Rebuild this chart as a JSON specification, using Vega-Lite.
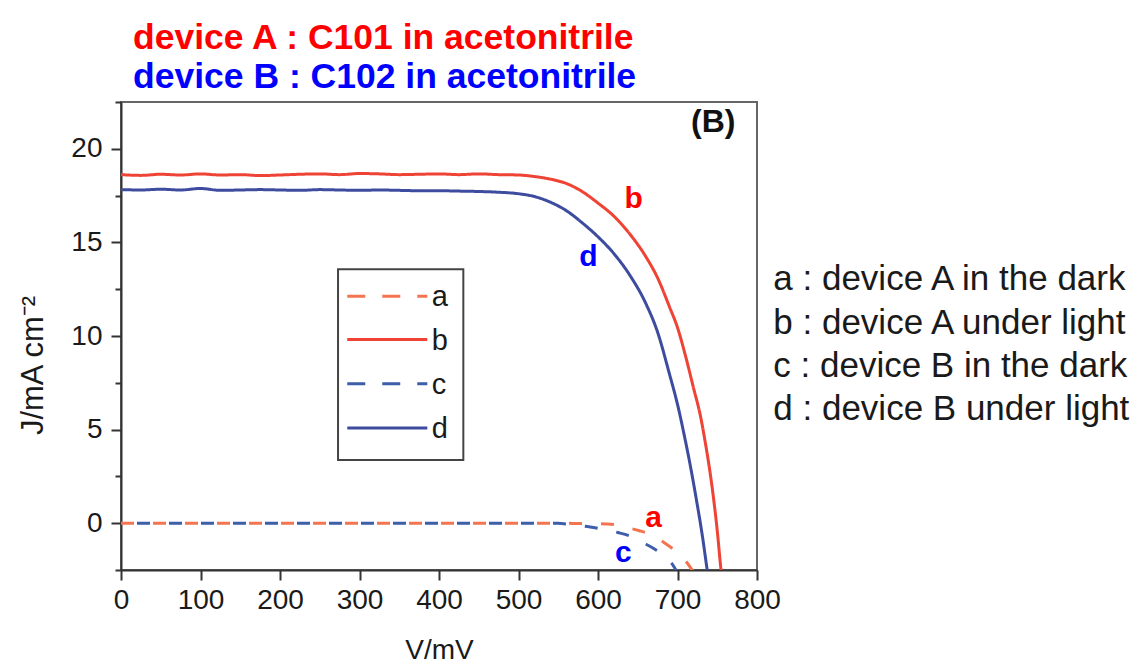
{
  "$schema": "https://vega.github.io/schema/vega-lite/v6.json",
  "width": 636,
  "height": 468,
  "autosize": "none",
  "padding": {"left": 121, "top": 102, "right": 384, "bottom": 100},
  "background": "white",
  "config": {
    "font": "Liberation Sans",
    "view": {"stroke": "#666", "strokeWidth": 2}
  },
  "title": {
    "text": "device A : C101 in acetonitrile",
    "subtitle": "device B : C102 in acetonitrile",
    "anchor": "start",
    "frame": "group",
    "dx": 12,
    "offset": -7,
    "font": "Liberation Sans",
    "fontSize": 35.5,
    "fontWeight": "bold",
    "color": "#ff0000",
    "subtitleFont": "Liberation Sans",
    "subtitleFontSize": 35.5,
    "subtitleFontWeight": "bold",
    "subtitleColor": "#0000ff",
    "subtitlePadding": 3
  },
  "datasets": {
    "jv": [
      {"curve": "b", "V": 0, "J": 18.62}, {"curve": "b", "V": 25, "J": 18.58}, {"curve": "b", "V": 50, "J": 18.64}, {"curve": "b", "V": 75, "J": 18.6},
      {"curve": "b", "V": 100, "J": 18.66}, {"curve": "b", "V": 125, "J": 18.6}, {"curve": "b", "V": 150, "J": 18.62}, {"curve": "b", "V": 175, "J": 18.57},
      {"curve": "b", "V": 200, "J": 18.6}, {"curve": "b", "V": 225, "J": 18.64}, {"curve": "b", "V": 250, "J": 18.66}, {"curve": "b", "V": 275, "J": 18.62},
      {"curve": "b", "V": 300, "J": 18.68}, {"curve": "b", "V": 325, "J": 18.66}, {"curve": "b", "V": 350, "J": 18.62}, {"curve": "b", "V": 375, "J": 18.64},
      {"curve": "b", "V": 400, "J": 18.66}, {"curve": "b", "V": 425, "J": 18.62}, {"curve": "b", "V": 450, "J": 18.66}, {"curve": "b", "V": 475, "J": 18.62},
      {"curve": "b", "V": 500, "J": 18.6}, {"curve": "b", "V": 520, "J": 18.52}, {"curve": "b", "V": 540, "J": 18.38}, {"curve": "b", "V": 560, "J": 18.15},
      {"curve": "b", "V": 580, "J": 17.72}, {"curve": "b", "V": 600, "J": 17.1}, {"curve": "b", "V": 620, "J": 16.4}, {"curve": "b", "V": 640, "J": 15.45},
      {"curve": "b", "V": 660, "J": 14.25}, {"curve": "b", "V": 675, "J": 13.1}, {"curve": "b", "V": 690, "J": 11.55}, {"curve": "b", "V": 700, "J": 10.45},
      {"curve": "b", "V": 710, "J": 8.95}, {"curve": "b", "V": 720, "J": 7.25}, {"curve": "b", "V": 729, "J": 5.7}, {"curve": "b", "V": 735, "J": 4.3},
      {"curve": "b", "V": 741, "J": 2.7}, {"curve": "b", "V": 746, "J": 1.1}, {"curve": "b", "V": 750, "J": -0.4}, {"curve": "b", "V": 754, "J": -2.2},
      {"curve": "b", "V": 756, "J": -3.0},

      {"curve": "d", "V": 0, "J": 17.82}, {"curve": "d", "V": 25, "J": 17.8}, {"curve": "d", "V": 50, "J": 17.84}, {"curve": "d", "V": 75, "J": 17.8},
      {"curve": "d", "V": 100, "J": 17.88}, {"curve": "d", "V": 125, "J": 17.78}, {"curve": "d", "V": 150, "J": 17.8}, {"curve": "d", "V": 175, "J": 17.82},
      {"curve": "d", "V": 200, "J": 17.8}, {"curve": "d", "V": 225, "J": 17.78}, {"curve": "d", "V": 250, "J": 17.82}, {"curve": "d", "V": 275, "J": 17.8},
      {"curve": "d", "V": 300, "J": 17.78}, {"curve": "d", "V": 325, "J": 17.8}, {"curve": "d", "V": 350, "J": 17.78}, {"curve": "d", "V": 375, "J": 17.76},
      {"curve": "d", "V": 400, "J": 17.76}, {"curve": "d", "V": 425, "J": 17.74}, {"curve": "d", "V": 450, "J": 17.72}, {"curve": "d", "V": 475, "J": 17.68},
      {"curve": "d", "V": 500, "J": 17.6}, {"curve": "d", "V": 520, "J": 17.45}, {"curve": "d", "V": 540, "J": 17.15}, {"curve": "d", "V": 560, "J": 16.7},
      {"curve": "d", "V": 580, "J": 16.05}, {"curve": "d", "V": 600, "J": 15.3}, {"curve": "d", "V": 620, "J": 14.4}, {"curve": "d", "V": 640, "J": 13.25},
      {"curve": "d", "V": 660, "J": 11.75}, {"curve": "d", "V": 675, "J": 10.2}, {"curve": "d", "V": 690, "J": 7.95}, {"curve": "d", "V": 700, "J": 6.35},
      {"curve": "d", "V": 708, "J": 4.8}, {"curve": "d", "V": 716, "J": 3.1}, {"curve": "d", "V": 724, "J": 1.2}, {"curve": "d", "V": 731, "J": -0.6},
      {"curve": "d", "V": 737, "J": -2.4}, {"curve": "d", "V": 739, "J": -3.0},

      {"curve": "a", "V": 0, "J": 0}, {"curve": "a", "V": 100, "J": 0}, {"curve": "a", "V": 200, "J": 0}, {"curve": "a", "V": 300, "J": 0},
      {"curve": "a", "V": 400, "J": 0}, {"curve": "a", "V": 500, "J": 0}, {"curve": "a", "V": 600, "J": -0.02}, {"curve": "a", "V": 610, "J": -0.04},
      {"curve": "a", "V": 624, "J": -0.1}, {"curve": "a", "V": 638, "J": -0.25}, {"curve": "a", "V": 652, "J": -0.4}, {"curve": "a", "V": 666, "J": -0.6},
      {"curve": "a", "V": 682, "J": -1.0}, {"curve": "a", "V": 695, "J": -1.4}, {"curve": "a", "V": 708, "J": -1.9}, {"curve": "a", "V": 723, "J": -2.8},

      {"curve": "c", "V": 0, "J": 0}, {"curve": "c", "V": 100, "J": 0}, {"curve": "c", "V": 200, "J": 0}, {"curve": "c", "V": 300, "J": 0},
      {"curve": "c", "V": 400, "J": 0}, {"curve": "c", "V": 500, "J": 0}, {"curve": "c", "V": 550, "J": 0}, {"curve": "c", "V": 560, "J": -0.04},
      {"curve": "c", "V": 575, "J": -0.12}, {"curve": "c", "V": 590, "J": -0.2}, {"curve": "c", "V": 611, "J": -0.37}, {"curve": "c", "V": 625, "J": -0.5},
      {"curve": "c", "V": 640, "J": -0.68}, {"curve": "c", "V": 657, "J": -1.05}, {"curve": "c", "V": 670, "J": -1.35}, {"curve": "c", "V": 682, "J": -1.7},
      {"curve": "c", "V": 692, "J": -2.1}, {"curve": "c", "V": 702, "J": -2.8}
    ]
  },
  "layer": [
    {
      "data": {"name": "jv"},
      "transform": [{"filter": "datum.curve !== 'c'"}],
      "mark": {"type": "line", "clip": true, "strokeWidth": 3, "interpolate": "monotone"},
      "encoding": {
        "x": {
          "field": "V", "type": "quantitative",
          "scale": {"domain": [0, 800], "nice": false, "zero": false},
          "axis": {
            "values": [0, 50, 100, 150, 200, 250, 300, 350, 400, 450, 500, 550, 600, 650, 700, 750, 800],
            "format": "d",
            "labelExpr": "datum.value % 100 === 0 ? datum.label : ''",
            "tickSize": {"condition": {"test": "datum.value % 100 === 0", "value": 10}, "value": 6},
            "tickColor": "#333", "tickWidth": 2,
            "domainColor": "#333", "domainWidth": 2,
            "grid": false,
            "labelFontSize": 28, "labelColor": "#1a1a1a", "labelPadding": 6,
            "labelFlush": false, "labelOverlap": false,
            "title": "V/mV", "titleFontSize": 28, "titleFontWeight": "normal", "titleColor": "#1a1a1a", "titlePadding": 22
          }
        },
        "y": {
          "field": "J", "type": "quantitative",
          "scale": {"domain": [-2.5, 22.5], "nice": false, "zero": false},
          "axis": {
            "values": [-2.5, 0, 2.5, 5, 7.5, 10, 12.5, 15, 17.5, 20, 22.5],
            "format": "d",
            "labelExpr": "datum.value % 5 === 0 ? datum.label : ''",
            "tickSize": {"condition": {"test": "datum.value % 5 === 0", "value": 10}, "value": 6},
            "tickColor": "#333", "tickWidth": 2,
            "domainColor": "#333", "domainWidth": 2,
            "grid": false,
            "labelFontSize": 28, "labelColor": "#1a1a1a", "labelPadding": 9,
            "labelOverlap": false,
            "title": "J/mA cm⁻²", "titleFontSize": 31, "titleFontWeight": "normal", "titleColor": "#1a1a1a", "titlePadding": 21, "titleY": 263
          }
        },
        "color": {
          "field": "curve", "type": "nominal",
          "scale": {"domain": ["a", "b", "c", "d"], "range": ["#f4744f", "#ee4335", "#3c5eab", "#3d4c9e"]},
          "legend": null
        },
        "strokeDash": {
          "field": "curve", "type": "nominal",
          "scale": {"domain": ["a", "b", "c", "d"], "range": [[13, 19], [1, 0], [13, 19], [1, 0]]},
          "legend": null
        }
      }
    },
    {
      "data": {"name": "jv"},
      "transform": [{"filter": "datum.curve === 'c'"}],
      "mark": {"type": "line", "clip": true, "strokeWidth": 3, "strokeDashOffset": 16, "interpolate": "monotone"},
      "encoding": {
        "x": {"field": "V", "type": "quantitative"},
        "y": {"field": "J", "type": "quantitative"},
        "color": {"field": "curve", "type": "nominal", "legend": null},
        "strokeDash": {"field": "curve", "type": "nominal", "legend": null}
      }
    },
    {
      "data": {"values": [{}]},
      "mark": {"type": "rect", "fill": "white", "stroke": "#444", "strokeWidth": 2},
      "encoding": {"x": {"datum": 273}, "x2": {"datum": 430.6}, "y": {"datum": 13.57}, "y2": {"datum": 3.38}}
    },
    {
      "data": {"values": [{}]},
      "mark": {"type": "rule", "stroke": "#f4744f", "strokeWidth": 3, "strokeDash": [18, 17]},
      "encoding": {"x": {"datum": 284.6}, "x2": {"datum": 385.3}, "y": {"datum": 12.12}}
    },
    {
      "data": {"values": [{}]},
      "mark": {"type": "rule", "stroke": "#ee4335", "strokeWidth": 3},
      "encoding": {"x": {"datum": 284.6}, "x2": {"datum": 385.3}, "y": {"datum": 9.81}}
    },
    {
      "data": {"values": [{}]},
      "mark": {"type": "rule", "stroke": "#3c5eab", "strokeWidth": 3, "strokeDash": [18, 17]},
      "encoding": {"x": {"datum": 284.6}, "x2": {"datum": 385.3}, "y": {"datum": 7.45}}
    },
    {
      "data": {"values": [{}]},
      "mark": {"type": "rule", "stroke": "#3d4c9e", "strokeWidth": 3},
      "encoding": {"x": {"datum": 284.6}, "x2": {"datum": 385.3}, "y": {"datum": 5.09}}
    },
    {
      "data": {"values": [{}]},
      "mark": {"type": "text", "align": "left", "baseline": "alphabetic", "fontSize": 29, "color": "#1a1a1a", "lineHeight": 43.7},
      "encoding": {"x": {"datum": 391}, "y": {"datum": 11.58}, "text": {"value": ["a", "b", "c", "d"]}}
    },
    {
      "data": {"values": [{}]},
      "mark": {"type": "text", "align": "center", "baseline": "middle", "fontSize": 30, "fontWeight": "bold", "color": "#ff0000"},
      "encoding": {"x": {"datum": 645}, "y": {"datum": 17.3}, "text": {"value": "b"}}
    },
    {
      "data": {"values": [{}]},
      "mark": {"type": "text", "align": "center", "baseline": "middle", "fontSize": 30, "fontWeight": "bold", "color": "#0000ff"},
      "encoding": {"x": {"datum": 588}, "y": {"datum": 14.2}, "text": {"value": "d"}}
    },
    {
      "data": {"values": [{}]},
      "mark": {"type": "text", "align": "center", "baseline": "middle", "fontSize": 30, "fontWeight": "bold", "color": "#ff0000"},
      "encoding": {"x": {"datum": 670}, "y": {"datum": 0.27}, "text": {"value": "a"}}
    },
    {
      "data": {"values": [{}]},
      "mark": {"type": "text", "align": "center", "baseline": "middle", "fontSize": 30, "fontWeight": "bold", "color": "#0000ff"},
      "encoding": {"x": {"datum": 632}, "y": {"datum": -1.6}, "text": {"value": "c"}}
    },
    {
      "data": {"values": [{}]},
      "mark": {"type": "text", "align": "center", "baseline": "middle", "fontSize": 32, "fontWeight": "bold", "color": "#111"},
      "encoding": {"x": {"datum": 745}, "y": {"datum": 21.45}, "text": {"value": "(B)"}}
    },
    {
      "data": {"values": [{}]},
      "mark": {"type": "text", "align": "left", "baseline": "alphabetic", "fontSize": 35, "color": "#1a1a1a", "lineHeight": 43.3},
      "encoding": {
        "x": {"datum": 820.5},
        "y": {"datum": 12.44},
        "text": {"value": ["a : device A in the dark", "b : device A under light", "c : device B in the dark", "d : device B under light"]}
      }
    }
  ]
}
